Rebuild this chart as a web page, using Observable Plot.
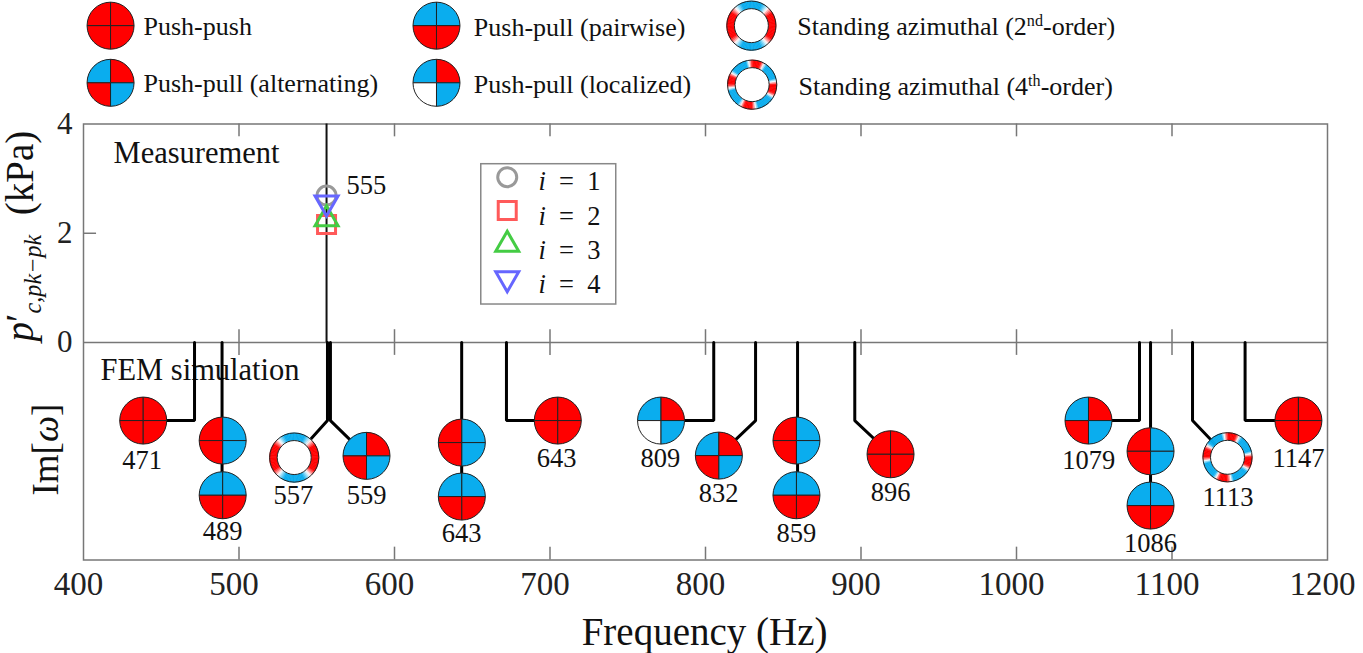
<!DOCTYPE html>
<html>
<head>
<meta charset="utf-8">
<style>html,body{margin:0;padding:0;background:#fff;overflow:hidden}</style>
<script src="https://cdn.jsdelivr.net/npm/d3@7"></script>
<script src="https://cdn.jsdelivr.net/npm/@observablehq/plot@0.6"></script>
</head>
<body>
<div id="chart"></div>
<script>
// ---------- axis ----------
const xDomain = [400, 1200];
const yDomain = [-3.98, 4];
const xTickValues = [400, 500, 600, 700, 800, 900, 1000, 1100, 1200];
const yTickValues = [0, 2, 4];
const xTickInner = [500, 600, 700, 800, 900, 1000, 1100];

// ---------- measurement (i = 1..4) ----------
const stemFreq = 556.3;
const seriesNames = ["*i*\u2002=\u20021", "*i*\u2002=\u20022", "*i*\u2002=\u20023", "*i*\u2002=\u20024"];
const seriesAmplitude = [2.69, 2.16, 2.31, 2.51];
const insetMarkerLevel = [3.026, 2.416, 1.843, 1.122];
const insetTextLevel = [2.947, 2.307, 1.684, 1.062];

// ---------- FEM modes: glyphs ----------
const glyphType = ["pp","split","pair","ring2","alt","split","pair","pp","loc","alt","split","pair","pp","alt","split","pair","ring4","pp"];
const glyphFreq = [438.4,489.5,489.5,535.5,582.0,643.3,643.3,705.0,771.4,808.6,858.5,858.5,919.0,1046.3,1086.2,1086.2,1135.7,1181.3];
const glyphLevel = [-1.428,-1.794,-2.795,-2.105,-2.074,-1.831,-2.819,-1.428,-1.428,-2.069,-1.794,-2.795,-2.045,-1.428,-1.99,-2.984,-2.10,-1.428];

// ---------- FEM modes: labels ----------
const labelText = ["471","489","557","559","643","643","809","832","859","896","1079","1086","1113","1147"];
const labelFreq = [437.7,489.4,535,582,643.1,704.2,771,808.4,858.5,919,1046.5,1086.2,1136,1181.3];
const labelLevel = [-2.16,-3.46,-2.80,-2.80,-3.50,-2.12,-2.12,-2.77,-3.50,-2.75,-2.16,-3.68,-2.84,-2.12];

// ---------- FEM modes: leaders [freq, level] ----------
const leaders = [
  [[471.4,0],[471.4,-1.428],[438.4,-1.428]],
  [[489.1,0],[489.1,-2.795]],
  [[556.9,0],[556.9,-1.428],[535.5,-2.105]],
  [[558.8,0],[558.8,-1.428],[582,-2.074]],
  [[643.2,0],[643.2,-2.82]],
  [[672,0],[672,-1.428],[705,-1.428]],
  [[805.3,0],[805.3,-1.428],[771.4,-1.428]],
  [[832.2,0],[832.2,-1.428],[808.6,-2.069]],
  [[859.2,0],[859.2,-2.8]],
  [[896,0],[896,-1.428],[919,-2.045]],
  [[1079.1,0],[1079.1,-1.428],[1046.3,-1.428]],
  [[1086.2,0],[1086.2,-2.98]],
  [[1113.2,0],[1113.2,-1.428],[1135.7,-2.10]],
  [[1147,0],[1147,-1.428],[1181.3,-1.428]]
];

// ---------- legend on top ----------
const legendType = ["pp","alt","pair","loc","ring2","ring4"];
const legendFreq = [417.4,417.4,627,627,829.5,830];
const legendLevel = [5.80,4.754,5.80,4.754,5.80,4.72];
const legendText = ["Push-push","Push-pull (alternating)","Push-pull (pairwise)","Push-pull (localized)","Standing azimuthal (2^{nd}-order)","Standing azimuthal (4^{th}-order)"];
const legendTextFreq = [438.6,438.6,651.0,651.0,859,859.8];
const legendTextLevel = [5.785,4.74,5.767,4.723,5.785,4.686];

// ---------- styling ----------
const RED = "#ff0000", BLUE = "#0aadee", WHITE = "#ffffff";
const patterns = {                // TL, TR, BL, BR
  pp:    [RED, RED, RED, RED],
  alt:   [BLUE, RED, RED, BLUE],
  pair:  [BLUE, BLUE, RED, RED],
  split: [RED, BLUE, RED, BLUE],
  loc:   [BLUE, RED, WHITE, BLUE]
};
const ringOffset = {ring2: 0, ring4: -10};
const ringOrder = {ring2: 2, ring4: 4};
const ringBias = {ring2: -0.1, ring4: 0.25};
const AXIS = "#777", INK = "#111", SERIF = "'Liberation Serif', serif";
const tickV = 0.235, tickH = 8.4;

// ---------- custom symbols ----------
const K = 0.5523;
const quadrant = (sx, sy, rx, ry) => ({draw(c) {
  c.moveTo(0, 0);
  c.lineTo(sx * rx, 0);
  c.bezierCurveTo(sx * rx, sy * K * ry, sx * K * rx, sy * ry, 0, sy * ry);
  c.closePath();
}});
const sector = (a0, a1, r0, r1) => ({draw(c) {
  const pt = (r, a) => [r * Math.cos(a), -r * Math.sin(a)];
  c.moveTo(...pt(r0, a0)); c.lineTo(...pt(r1, a0));
  c.lineTo(...pt(r1, (a0 + a1) / 2)); c.lineTo(...pt(r1, a1));
  c.lineTo(...pt(r0, a1)); c.lineTo(...pt(r0, (a0 + a1) / 2));
  c.closePath();
}});
const polygon = (pts) => ({draw(c) { pts.forEach((p, i) => i ? c.lineTo(...p) : c.moveTo(...p)); c.closePath(); }});
const hollowSquare = polygon([[-9,-9],[9,-9],[9,9],[-9,9]]);
const triUp = polygon([[0,-10.5],[11.5,9.5],[-11.5,9.5]]);
const triDown = polygon([[0,10.5],[11.5,-9.5],[-11.5,-9.5]]);

// ---------- tables ----------
const glyphs = glyphType.map((type, i) => ({type, x: glyphFreq[i], y: glyphLevel[i]}));
const legendGlyphs = legendType.map((type, i) => ({type, x: legendFreq[i], y: legendLevel[i]}));
const labels = labelText.map((text, i) => ({text, x: labelFreq[i], y: labelLevel[i]}));
const legendLabels = legendText.map((text, i) => ({text, x: legendTextFreq[i], y: legendTextLevel[i]}));
const leaderPoints = leaders.flatMap((pts, id) => pts.map(([x, y]) => ({id, x, y})));

const quadrantMarks = (data, rx, ry) => [[-1,-1,0],[1,-1,1],[-1,1,2],[1,1,3]].map(([sx, sy, k]) =>
  Plot.dot(data.filter(d => patterns[d.type]), {
    x: "x", y: "y", symbol: quadrant(sx, sy, rx, ry),
    fill: d => patterns[d.type][k], stroke: "#222", strokeWidth: 1
  }));

const tone = (type, theta) => {
  const n = ringOrder[type];
  const c = Math.cos(n * (theta - ringOffset[type] * Math.PI / 180)) - ringBias[type];
  const s = Math.min(1, Math.abs(c) / 0.55);
  return d3.interpolateRgb(WHITE, c > 0 ? RED : BLUE)(s);
};
const SECTORS = 96;
const ringMarks = (data) => {
  const rings = data.filter(d => ringOrder[d.type]);
  const out = [];
  for (let k = 0; k < SECTORS; k++) {
    const a0 = 2 * Math.PI * k / SECTORS, a1 = 2 * Math.PI * (k + 1) / SECTORS;
    out.push(Plot.dot(rings, {
      x: "x", y: "y", symbol: sector(a0, a1, 17, 24.6),
      fill: d => tone(d.type, (a0 + a1) / 2), stroke: d => tone(d.type, (a0 + a1) / 2), strokeWidth: 0.6
    }));
  }
  out.push(Plot.dot(rings, {x: "x", y: "y", r: 24.6, fill: "none", stroke: "#222", strokeWidth: 1}));
  out.push(Plot.dot(rings, {x: "x", y: "y", r: 17, fill: "#fff", stroke: "#222", strokeWidth: 1}));
  return out;
};

const serifText = (data, size, opts = {}) => Plot.text(data, {
  x: "x", y: "y", text: "text", fontSize: size, fill: INK, textAnchor: "middle", lineAnchor: "middle", ...opts
});

const plot = Plot.plot({
  width: 1363, height: 653,
  marginLeft: 83, marginRight: 36, marginTop: 123.5, marginBottom: 93.5,
  x: {domain: xDomain, axis: null},
  y: {domain: yDomain, axis: null},
  color: {type: "identity"},
  style: {fontFamily: SERIF, background: "#fff", overflow: "visible"},
  marks: [
    // frame and ticks
    Plot.axisX({ticks: xTickValues, tickFormat: d3.format("d"), tickSize: 0, tickPadding: 12, dx: -5, fontSize: 33, fontFamily: SERIF, fill: "#222", label: null}),
    Plot.axisY({ticks: yTickValues, tickSize: 0, tickPadding: 11, fontSize: 31, fontFamily: SERIF, fill: "#222", label: null}),
    Plot.ruleX(xTickInner, {y1: 4, y2: 4 - tickV, stroke: AXIS, strokeWidth: 1.5}),
    Plot.ruleX(xTickInner, {y1: -tickV, y2: tickV, stroke: AXIS, strokeWidth: 1.5}),
    Plot.ruleX(xTickInner, {y1: yDomain[0], y2: yDomain[0] + tickV, stroke: AXIS, strokeWidth: 1.5}),
    Plot.ruleY([2], {x1: 400, x2: 400 + tickH, stroke: AXIS, strokeWidth: 1.5}),
    Plot.ruleY([0], {stroke: AXIS, strokeWidth: 1.5}),
    Plot.frame({stroke: AXIS, strokeWidth: 1.5}),

    // panel captions
    serifText([{text: "Measurement", x: 419.3, y: 3.46}], 30.5, {textAnchor: "start"}),
    serifText([{text: "FEM simulation", x: 410.9, y: -0.513}], 30.5, {textAnchor: "start"}),

    // measurement stem and inset legend
    Plot.ruleX([stemFreq], {y1: 0, y2: 4, stroke: INK, strokeWidth: 2}),
    Plot.rect([{}], {x1: 655.8, x2: 742.6, y1: 3.264, y2: 0.696, fill: "#fff", stroke: "#888", strokeWidth: 1.5}),

    Plot.dot([stemFreq], {x: d => d, y: () => seriesAmplitude[0], symbol: "circle", r: 9.5, stroke: "#999", strokeWidth: 3, fill: "none"}),
    Plot.dot([stemFreq], {x: d => d, y: () => seriesAmplitude[1], symbol: hollowSquare, stroke: "#ff5a5a", strokeWidth: 3, fill: "none"}),
    Plot.dot([stemFreq], {x: d => d, y: () => seriesAmplitude[2], symbol: triUp, stroke: "#44cc44", strokeWidth: 3, fill: "none"}),
    Plot.dot([stemFreq], {x: d => d, y: () => seriesAmplitude[3], symbol: triDown, stroke: "#6666ff", strokeWidth: 3, fill: "none"}),
    serifText([{text: "555", x: 569.1, y: 2.874}], 26.5, {textAnchor: "start"}),

    Plot.dot([672.5], {x: d => d, y: () => insetMarkerLevel[0], symbol: "circle", r: 9.5, stroke: "#999", strokeWidth: 3, fill: "none"}),
    Plot.dot([672.5], {x: d => d, y: () => insetMarkerLevel[1], symbol: hollowSquare, stroke: "#ff5a5a", strokeWidth: 3, fill: "none"}),
    Plot.dot([672.5], {x: d => d, y: () => insetMarkerLevel[2], symbol: triUp, stroke: "#44cc44", strokeWidth: 3, fill: "none"}),
    Plot.dot([672.5], {x: d => d, y: () => insetMarkerLevel[3], symbol: triDown, stroke: "#6666ff", strokeWidth: 3, fill: "none"}),
    serifText(seriesNames.map((text, i) => ({text, x: 692.6, y: insetTextLevel[i]})), 26.5, {textAnchor: "start"}),

    // FEM leaders, glyphs, labels
    Plot.line(leaderPoints, {x: "x", y: "y", z: "id", stroke: "#000", strokeWidth: 3, curve: "linear", strokeLinejoin: "miter"}),
    ...quadrantMarks(glyphs, 23.5, 23.5),
    ...ringMarks(glyphs),
    serifText(labels, 26.5),

    // top legend
    ...quadrantMarks(legendGlyphs, 23.5, 23.5),
    ...ringMarks(legendGlyphs),
    serifText(legendLabels, 26, {textAnchor: "start"}),

    // axis titles
    serifText([{text: "Frequency (Hz)", x: 799.4, y: -5.3}], 39),
    Plot.text([{text: "*p*\u2032_{c,pk\u2212pk}\u2002(kPa)", x: 359.5, y: 0.02}], {
      x: "x", y: "y", text: "text", rotate: -90, fontSize: 39, fill: INK, textAnchor: "start", lineAnchor: "middle"
    }),
    Plot.text([{text: "Im[*\u03c9*]", x: 370.4, y: -2.80}], {
      x: "x", y: "y", text: "text", rotate: -90, fontSize: 37, fill: INK, textAnchor: "start", lineAnchor: "middle", dx: 9
    })
  ]
});

// rich text: *italic*, ^{sup}, _{sub}
d3.select(plot).selectAll("text").each(function () {
  const src = this.textContent;
  if (!/[*^_]/.test(src)) return;
  const sel = d3.select(this);
  sel.text(null);
  const re = /\*([^*]+)\*|\^\{([^}]+)\}|_\{([^}]+)\}|([^*^_]+)/g;
  let m, pending = 0;
  while ((m = re.exec(src))) {
    const t = sel.append("tspan");
    if (m[1]) { t.text(m[1]).attr("font-style", "italic"); }
    else if (m[2]) { t.text(m[2]).attr("font-size", "0.62em").attr("dy", "-0.55em"); pending = 0.55 * 0.62; }
    else if (m[3]) { t.text(m[3]).attr("font-size", "0.62em").attr("font-style", "italic").attr("dy", "0.35em"); pending = -0.35 * 0.62; }
    else {
      t.text(m[4]);
      if (pending) { t.attr("dy", pending + "em"); pending = 0; }
    }
  }
});

document.getElementById("chart").append(plot);
</script>
</body>
</html>
